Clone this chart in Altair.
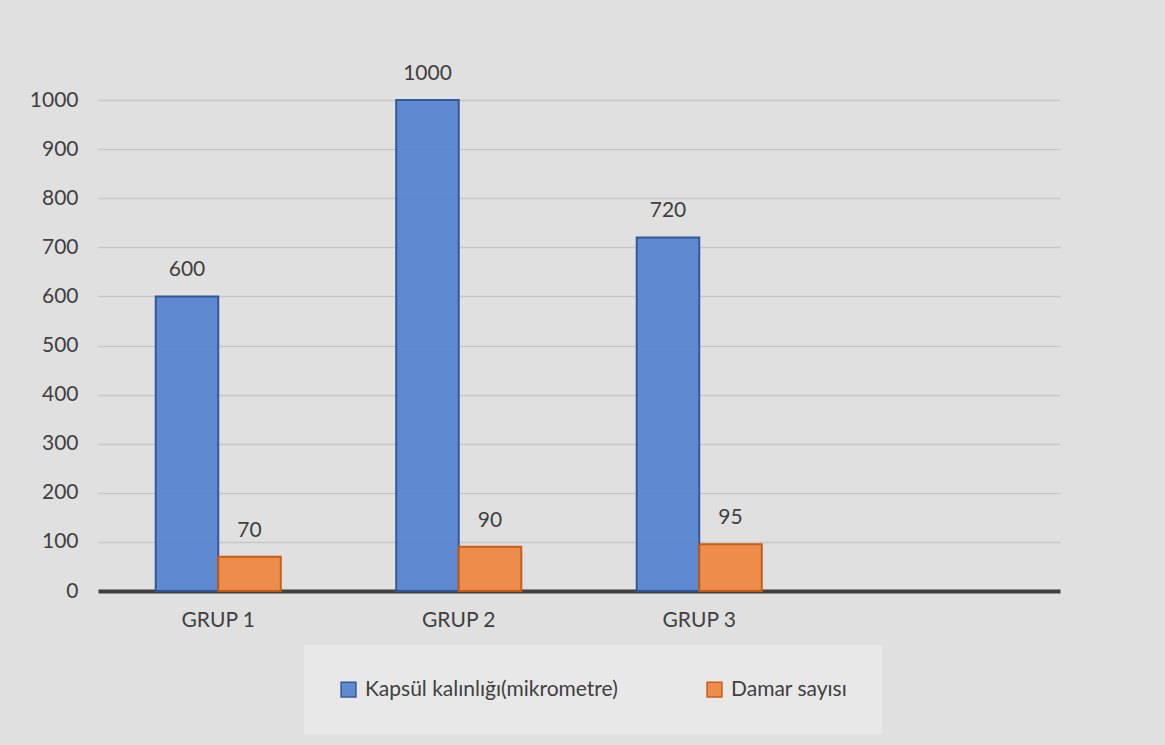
import altair as alt
import pandas as pd

groups = ["GRUP 1", "GRUP 2", "GRUP 3"]
series = ["Kapsül kalınlığı(mikrometre)", "Damar sayısı"]
kapsul = [600, 1000, 720]
damar = [70, 90, 95]
colors_fill = ["#5b87d0", "#ef8a47"]
colors_stroke = ["#2f5597", "#c55a11"]

rows = []
for g, k, d in zip(groups, kapsul, damar):
    rows.append({"grup": g, "seri": series[0], "deger": k})
    rows.append({"grup": g, "seri": series[1], "deger": d})
df = pd.DataFrame(rows)

FONT = "Lato"
TXT = "#404040"
FS = 21

x_domain = groups + [" "]

x = alt.X("grup:N", scale=alt.Scale(domain=x_domain, paddingInner=0.48, paddingOuter=0.24),
          sort=x_domain,
          axis=alt.Axis(title=None, labelAngle=0, labelFontSize=FS, labelColor=TXT, labelFont=FONT,
                        domainColor="#404040", domainWidth=4, ticks=False, labelPadding=18,
                        grid=False))
y = alt.Y("deger:Q", scale=alt.Scale(domain=[0, 1000], nice=False),
          axis=alt.Axis(title=None, values=list(range(0, 1001, 100)), format="d", labelFontSize=FS,
                        labelColor=TXT, labelFont=FONT, domain=False, ticks=False,
                        labelPadding=20, grid=True, gridColor="#c8c8c8", gridWidth=1.5))
xo = alt.XOffset("seri:N", sort=series, scale=alt.Scale(domain=series, paddingInner=0))
color = alt.Color("seri:N", sort=series,
                  scale=alt.Scale(domain=series, range=colors_fill),
                  legend=alt.Legend(title=None, orient="none", legendX=206, legendY=545,
                                    direction="horizontal", labelFontSize=FS, labelColor=TXT,
                                    labelFont=FONT, symbolType="square", symbolSize=220,
                                    symbolStrokeWidth=1.5, fillColor="#e8e8e8", padding=34,
                                    columnPadding=86, labelLimit=400, labelOffset=6))
stroke = alt.Stroke("seri:N", sort=series,
                    scale=alt.Scale(domain=series, range=colors_stroke), legend=None)

base = alt.Chart(df)
bars = base.mark_bar(strokeWidth=2, opacity=0.97).encode(x=x, xOffset=xo, y=y, color=color, stroke=stroke)
labels = base.mark_text(dy=-26, fontSize=FS, font=FONT, color=TXT).encode(
    x=x, xOffset=xo, y=y, text="deger:Q")

chart = alt.layer(bars, labels).properties(
    width=962, height=491,
    autosize=alt.AutoSizeParams(type="none"),
    padding={"left": 98, "top": 100, "right": 105, "bottom": 154},
).configure(background="#e0e0e0").configure_view(stroke=None, fill=None)

chart.save("out.html", embed_options={"renderer": "svg", "actions": False})
